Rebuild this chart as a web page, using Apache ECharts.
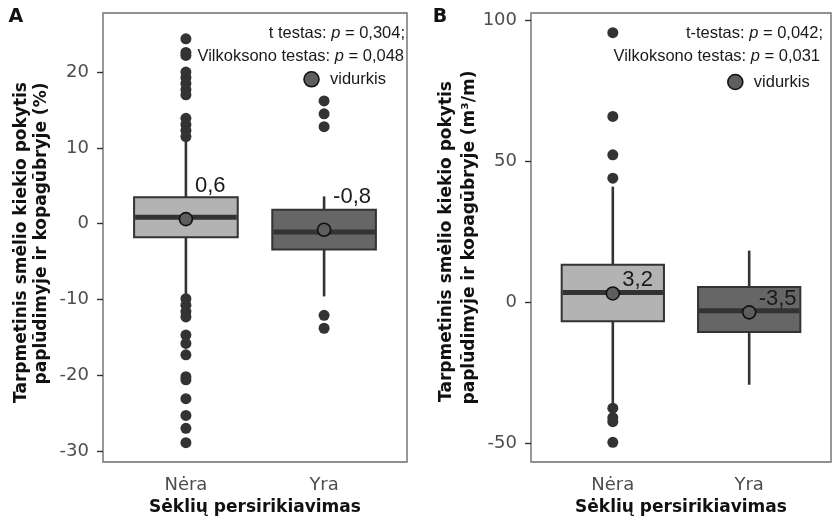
<!DOCTYPE html>
<html><head><meta charset="utf-8">
<script src="https://cdn.jsdelivr.net/npm/echarts@6/dist/echarts.min.js"></script>
<style>html,body{margin:0;padding:0;background:#fff}#c{width:832px;height:522px}</style>
</head><body><div id="c"></div>
<script>
// ---------- data ----------
const categories = ['Nėra', 'Yra'];
const catPositions = [1, 2];

// Panel A (%): [lower whisker, Q1, median, Q3, upper whisker]
const boxA_nera = [-9.3, -1.8, 0.85, 3.5, 11.0];
const boxA_yra  = [-9.6, -3.4, -1.1, 1.85, 3.6];
const outliersA_nera = [24.4, 22.6, 22.2, 20.0, 19.3, 18.5, 17.7, 17.0, 13.9, 13.1, 12.3, 11.5,
  -9.9, -10.75, -11.6, -12.3, -14.7, -15.8, -17.3, -20.2, -20.6, -23.1, -25.3, -27.0, -28.9];
const outliersA_yra = [16.2, 14.5, 12.8, -12.1, -13.8];
const meansA = [0.6, -0.8];
const ticksA = [-30, -20, -10, 0, 10, 20];

// Panel B (m3/m)
const boxB_nera = [-36.3, -6.7, 3.5, 13.4, 41.1];
const boxB_yra  = [-29.2, -10.5, -2.9, 5.5, 18.4];
const outliersB_nera = [95.7, 66.0, 52.4, 44.1, -37.5, -40.9, -42.3, -49.6];
const outliersB_yra = [];
const meansB = [3.2, -3.5];
const ticksB = [-50, 0, 50, 100];

// ---------- styles ----------
const boxFills = ['#b3b3b3', '#666666'];
const dark = '#333333';
const FONT = 'DejaVu Sans';
const AFONT = 'Liberation Sans';

function renderBox(params, api) {
  const x = api.value(0);
  const lo = api.value(1), q1 = api.value(2), med = api.value(3), q3 = api.value(4), hi = api.value(5);
  const hw = 0.375;
  const pHi = api.coord([x, hi]), pQ3 = api.coord([x, q3]), pQ1 = api.coord([x, q1]), pLo = api.coord([x, lo]);
  const tl = api.coord([x - hw, q3]), br = api.coord([x + hw, q1]);
  const pm = api.coord([x, med]);
  const fill = boxFills[params.dataIndex];
  return {type: 'group', children: [
    {type: 'line', shape: {x1: pHi[0], y1: pHi[1], x2: pQ3[0], y2: pQ3[1]}, style: {stroke: dark, lineWidth: 2.6}},
    {type: 'line', shape: {x1: pQ1[0], y1: pQ1[1], x2: pLo[0], y2: pLo[1]}, style: {stroke: dark, lineWidth: 2.6}},
    {type: 'rect', shape: {x: tl[0], y: tl[1], width: br[0] - tl[0], height: br[1] - tl[1]}, style: {fill: fill, stroke: dark, lineWidth: 2}},
    {type: 'line', shape: {x1: tl[0] + 1, y1: pm[1], x2: br[0] - 1, y2: pm[1]}, style: {stroke: dark, lineWidth: 5}}
  ]};
}

function makeX(idx) {
  return {
    type: 'value', gridIndex: idx, min: 0.4, max: 2.6,
    name: 'Sėklių persirikiavimas', nameLocation: 'middle', nameGap: 37,
    nameTextStyle: {fontFamily: FONT, fontWeight: 'bold', fontSize: 17, color: '#111'},
    axisLine: {show: false},
    splitLine: {show: false},
    axisTick: {show: true, customValues: catPositions, length: 6, lineStyle: {color: dark, width: 1.4}},
    axisLabel: {customValues: catPositions, margin: 14, fontFamily: FONT, fontSize: 18, color: '#4d4d4d',
      formatter: v => categories[Math.round(v) - 1]}
  };
}
function makeY(idx, min, max, ticks) {
  return {
    type: 'value', gridIndex: idx, min: min, max: max,
    axisLine: {show: false},
    splitLine: {show: false},
    axisTick: {show: true, customValues: ticks, length: 6, lineStyle: {color: dark, width: 1.4}},
    axisLabel: {customValues: ticks, margin: 14, fontFamily: FONT, fontSize: 18, color: '#4d4d4d',
      formatter: v => String(v)}
  };
}

function seriesFor(idx, boxes, outs, means, labelOffset) {
  const boxData = boxes.map((b, i) => [catPositions[i]].concat(b));
  const outData = [];
  outs.forEach((arr, i) => arr.forEach(v => outData.push([catPositions[i], v])));
  const meanData = means.map((m, i) => [catPositions[i], m]);
  return [
    {type: 'custom', xAxisIndex: idx, yAxisIndex: idx, renderItem: renderBox, data: boxData,
      encode: {x: 0, y: [1, 2, 3, 4, 5]}, z: 2, silent: true},
    {type: 'scatter', xAxisIndex: idx, yAxisIndex: idx, data: outData, symbol: 'circle', symbolSize: 11,
      itemStyle: {color: dark, opacity: 1}, z: 3, silent: true},
    {type: 'scatter', name: 'vidurkis', xAxisIndex: idx, yAxisIndex: idx, data: meanData, symbol: 'circle', symbolSize: 13,
      itemStyle: {color: '#5e5e5e', borderColor: '#111', borderWidth: 1.6, opacity: 1}, z: 4, silent: true,
      label: {show: true, position: 'inside', offset: labelOffset, align: 'left', verticalAlign: 'middle',
        fontFamily: AFONT, fontSize: 22, color: '#1a1a1a',
        formatter: p => String(p.value[1]).replace('.', ',')}}
  ];
}

function legendAt(left, top) {
  return {data: ['vidurkis'], left: left, top: top, padding: 0, itemWidth: 15, itemHeight: 15,
    icon: 'circle', selectedMode: false,
    itemStyle: {color: '#5e5e5e', borderColor: '#111', borderWidth: 1.6, opacity: 1},
    textStyle: {fontFamily: AFONT, fontSize: 16.5, color: '#1a1a1a', padding: [0, 0, 0, 6]}};
}

function testText(x, y, pre, val) {
  return {type: 'text', x: x, y: y, style: {
    text: '{n|' + pre + '}{i|p}{n| = ' + val + '}', align: 'right', verticalAlign: 'middle',
    rich: {
      n: {fontFamily: AFONT, fontSize: 16.5, fill: '#1a1a1a'},
      i: {fontFamily: AFONT, fontSize: 16.5, fontStyle: 'italic', fill: '#1a1a1a'}
    }}};
}
function yTitle(x, y, txt) {
  return {type: 'text', x: x, y: y, rotation: Math.PI / 2, style: {
    text: txt, align: 'center', verticalAlign: 'middle',
    font: 'bold 17px "' + FONT + '"', fill: '#111'}};
}

const chart = echarts.init(document.getElementById('c'), null, {renderer: 'canvas'});
chart.setOption({
  animation: false,
  backgroundColor: '#fff',
  grid: [
    {left: 103, top: 13, width: 304, height: 449, show: true, borderColor: '#6e6e6e', borderWidth: 1.4, containLabel: false, outerBoundsMode: 'none'},
    {left: 531, top: 13, width: 300, height: 449, show: true, borderColor: '#6e6e6e', borderWidth: 1.4, containLabel: false, outerBoundsMode: 'none'}
  ],
  xAxis: [makeX(0), makeX(1)],
  yAxis: [makeY(0, -31.45, 27.8, ticksA), makeY(1, -56.6, 102.7, ticksB)],
  legend: [legendAt(303.2, 70.8), legendAt(727, 73.5)],
  series: [].concat(
    seriesFor(0, [boxA_nera, boxA_yra], [outliersA_nera, outliersA_yra], meansA, [9, -33]),
    seriesFor(1, [boxB_nera, boxB_yra], [outliersB_nera, outliersB_yra], meansB, [9.5, -13.5])
  ),
  graphic: [
    {type: 'text', x: 15.8, y: 17.5, style: {text: 'A', font: 'bold 19px "' + FONT + '"', fill: '#111', align: 'center', verticalAlign: 'middle'}},
    {type: 'text', x: 440, y: 17.5, style: {text: 'B', font: 'bold 19px "' + FONT + '"', fill: '#111', align: 'center', verticalAlign: 'middle'}},
    yTitle(21.5, 242.5, 'Tarpmetinis smėlio kiekio pokytis'),
    yTitle(41.5, 233.5, 'paplūdimyje ir kopagūbryje (%)'),
    yTitle(447, 241.5, 'Tarpmetinis smėlio kiekio pokytis'),
    yTitle(469.5, 237.5, 'paplūdimyje ir kopagūbryje (m³/m)'),
    testText(405, 33, 't testas: ', '0,304;'),
    testText(404, 56, 'Vilkoksono testas: ', '0,048'),
    testText(823, 33, 't-testas: ', '0,042;'),
    testText(820, 56, 'Vilkoksono testas: ', '0,031')
  ]
});
</script>
</body></html>
